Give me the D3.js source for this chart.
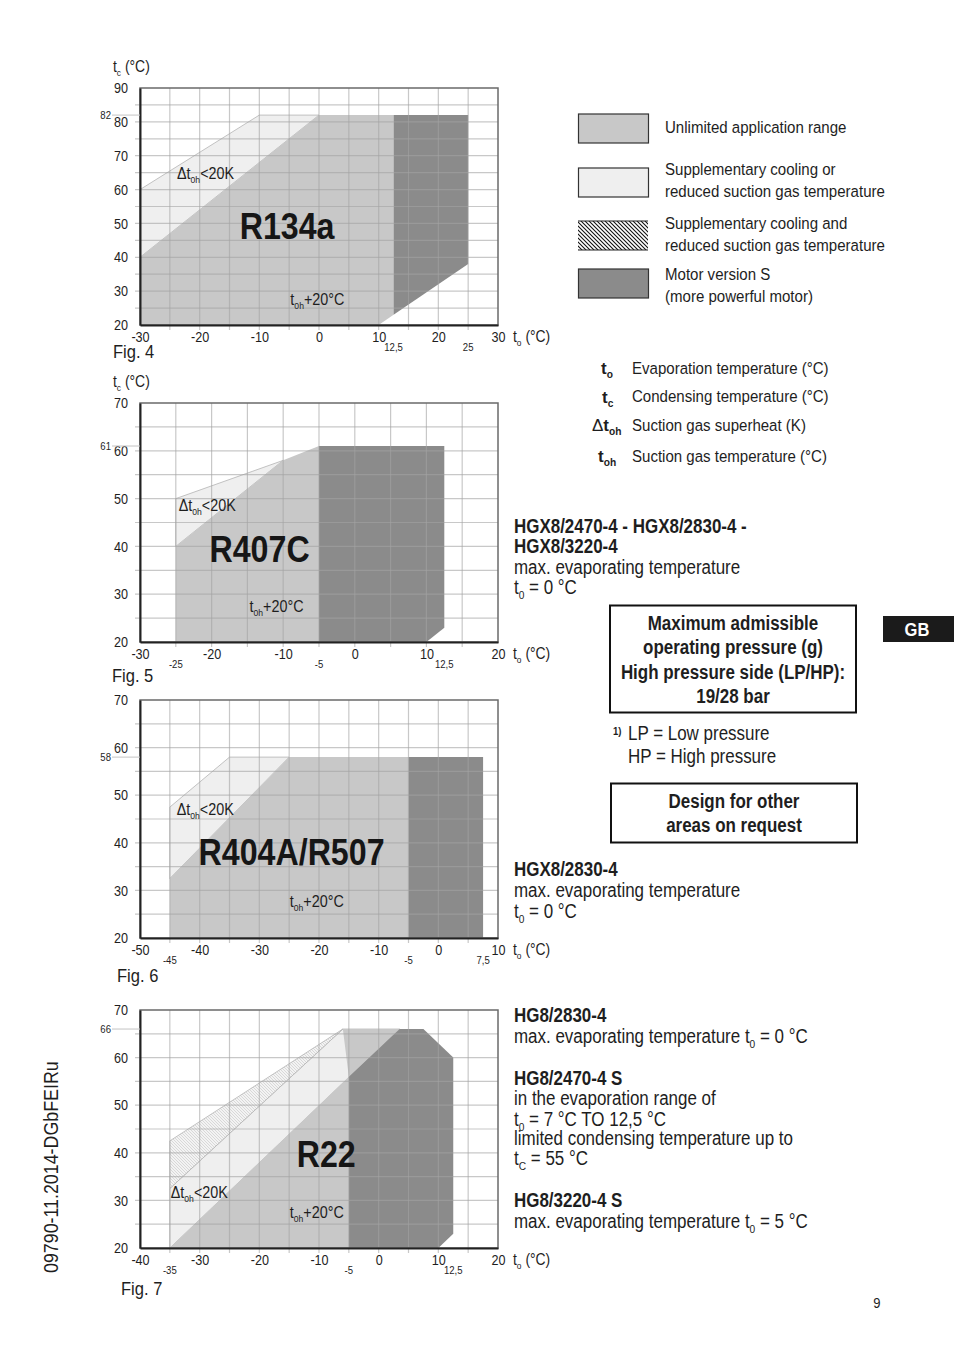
<!DOCTYPE html>
<html>
<head>
<meta charset="utf-8">
<script src="https://cdn.jsdelivr.net/npm/d3@7"></script>
<style>
body{margin:0;background:#fff;}
svg{display:block;font-family:"Liberation Sans",Arial,sans-serif;}
</style>
</head>
<body>
<div id="chart-area"></div>
<script>
// ---- data: Fig. 4 R134a
var r134aX=[-30,30], r134aY=[20,90];
var r134aXTicks=[-30,-20,-10,0,10,20,30];
var r134aYTicks=[20,30,40,50,60,70,80,90];
var r134aExtraX=[12.5,25];
var r134aExtraY=[82];
var r134aLight=[[-30,40],[-30,60],[-10,82],[0,82]];
var r134aMid=[[-30,20],[-30,40],[0,82],[12.5,82],[12.5,23],[10,20]];
var r134aDark=[[12.5,82],[25,82],[25,38],[12.5,23]];

// ---- Fig. 5 R407C
var r407cX=[-30,20], r407cY=[20,70];
var r407cXTicks=[-30,-20,-10,0,10,20];
var r407cYTicks=[20,30,40,50,60,70];
var r407cExtraX=[-25,-5,12.5];
var r407cExtraY=[61];
var r407cLight=[[-25,40],[-25,50],[-10,58]];
var r407cMid=[[-25,20],[-25,40],[-10,58],[-5,61],[-5,20]];
var r407cDark=[[-5,20],[-5,61],[12.5,61],[12.5,23],[10,20]];

// ---- Fig. 6 R404A/R507
var r404X=[-50,10], r404Y=[20,70];
var r404XTicks=[-50,-40,-30,-20,-10,0,10];
var r404YTicks=[20,30,40,50,60,70];
var r404ExtraX=[-45,-5,7.5];
var r404ExtraY=[58];
var r404Light=[[-45,32.5],[-45,47.5],[-35,58],[-25,58]];
var r404Mid=[[-45,20],[-45,32.5],[-25,58],[-5,58],[-5,20]];
var r404Dark=[[-5,20],[-5,58],[7.5,58],[7.5,20]];

// ---- Fig. 7 R22
var r22X=[-40,20], r22Y=[20,70];
var r22XTicks=[-40,-30,-20,-10,0,10,20];
var r22YTicks=[20,30,40,50,60,70];
var r22ExtraX=[-35,-5,12.5];
var r22ExtraY=[66];
var r22Light=[[-35,20],[-35,32.5],[-6,66],[3.5,66]];
var r22Hatch=[[-35,32.5],[-35,42.5],[-6,66]];
var r22Mid=[[-35,20],[-5,20],[-5,56],[-6,66],[3.5,66],[-5,56]];
var r22Dark=[[-5,20],[-5,56],[3.5,66],[7.5,66],[12.5,60],[12.5,23],[10,20]];

// ---- legend / notes
var legendLabels=[["Unlimited application range"],
  ["Supplementary cooling or","reduced suction gas temperature"],
  ["Supplementary cooling and","reduced suction gas temperature"],
  ["Motor version S","(more powerful motor)"]];
var symbolLabels=["Evaporation temperature (°C)","Condensing temperature (°C)",
  "Suction gas superheat (K)","Suction gas temperature (°C)"];

var colors={light:"#efefef",mid:"#c8c8c8",dark:"#8b8b8b",text:"#1e1e1e"};
var narrow=0.87; // condensed look

var W=954,H=1354;
var svg=d3.select("#chart-area").append("svg").attr("width",W).attr("height",H);

var defs=svg.append("defs");
var pat=defs.append("pattern").attr("id","hatchBlack").attr("patternUnits","userSpaceOnUse")
  .attr("width",4).attr("height",4);
pat.append("rect").attr("width",4).attr("height",4).attr("fill","#fff");
pat.append("path").attr("d","M0,0L4,4M-1,3L1,5M3,-1L5,1").attr("stroke","#111").attr("stroke-width",1.1);
var pat2=defs.append("pattern").attr("id","hatchLight").attr("patternUnits","userSpaceOnUse")
  .attr("width",3).attr("height",3);
pat2.append("rect").attr("width",3).attr("height",3).attr("fill","#f3f3f3");
pat2.append("path").attr("d","M0,0L3,3M-1,2L1,4M2,-1L4,1").attr("stroke","#cdcdcd").attr("stroke-width",0.7);

// text with sub/superscripts
function rich(g,x,y,parts,size,weight,anchor){
  var t=g.append("text").attr("x",x).attr("y",y).attr("font-size",size)
    .attr("font-weight",weight||"normal").attr("text-anchor",anchor||"start").attr("fill",colors.text);
  var shift=0;
  parts.forEach(function(p){
    if(typeof p==="string") p={t:p};
    var target=p.sub?size*0.24:(p.sup?-size*0.38:0);
    var ts=t.append("tspan").text(p.t).attr("dy",target-shift);
    if(p.sub||p.sup) ts.attr("font-size",size*0.6);
    if(p.b) ts.attr("font-weight","bold");
    shift=target;
  });
  return t;
}
function comma(v){return String(v).replace(".",",");}

var charts=[
  {fig:"Fig. 4",name:"R134a",xd:r134aX,yd:r134aY,xt:r134aXTicks,yt:r134aYTicks,ex:r134aExtraX,ey:r134aExtraY,
   light:r134aLight,mid:r134aMid,dark:r134aDark,
   top:88,bottom:325,tc:true,figX:113,figY:358,
   pDelta:[-23.8,63.2],pName:[-5.35,45.5],pToh:[-4.8,25.9]},
  {fig:"Fig. 5",name:"R407C",xd:r407cX,yd:r407cY,xt:r407cXTicks,yt:r407cYTicks,ex:r407cExtraX,ey:r407cExtraY,
   light:r407cLight,mid:r407cMid,dark:r407cDark,
   top:403,bottom:642,tc:true,figX:112,figY:682,
   pDelta:[-24.6,47.3],pName:[-13.3,36.8],pToh:[-14.7,26.3]},
  {fig:"Fig. 6",name:"R404A/R507",xd:r404X,yd:r404Y,xt:r404XTicks,yt:r404YTicks,ex:r404ExtraX,ey:r404ExtraY,
   light:r404Light,mid:r404Mid,dark:r404Dark,
   top:700,bottom:938,tc:false,figX:117,figY:982,
   pDelta:[-43.85,45.9],pName:[-24.6,35.4],pToh:[-24.9,26.6]},
  {fig:"Fig. 7",name:"R22",xd:r22X,yd:r22Y,xt:r22XTicks,yt:r22YTicks,ex:r22ExtraX,ey:r22ExtraY,
   light:r22Light,hatch:r22Hatch,mid:r22Mid,dark:r22Dark,
   top:1010,bottom:1248,tc:false,figX:121,figY:1295,
   pDelta:[-34.85,30.5],pName:[-8.8,37.1],pToh:[-14.9,26.3]}
];

var left=140,right=498;

charts.forEach(function(c){
  var x=d3.scaleLinear().domain(c.xd).range([left,right]);
  var y=d3.scaleLinear().domain(c.yd).range([c.bottom,c.top]);
  var g=svg.append("g");
  var line=d3.line().x(function(d){return x(d[0]);}).y(function(d){return y(d[1]);});
  function poly(pts,fill,stroke){
    g.append("path").attr("d",line(pts)+"Z").attr("fill",fill)
      .attr("stroke",stroke||"none").attr("stroke-width",0.8);
  }
  poly(c.light,colors.light,"#b4b4b4");
  if(c.hatch) poly(c.hatch,"url(#hatchLight)","#b4b4b4");
  poly(c.mid,colors.mid);
  poly(c.dark,colors.dark);

  // grid every 5
  var gx=d3.range(c.xd[0]+5,c.xd[1],5), gy=d3.range(c.yd[0]+5,c.yd[1],5);
  g.append("g").selectAll("line").data(gx).enter().append("line")
    .attr("x1",x).attr("x2",x).attr("y1",c.top).attr("y2",c.bottom+5)
    .attr("stroke","#a4a4a4").attr("stroke-opacity",0.6).attr("stroke-width",1.2);
  g.append("g").selectAll("line").data(gy).enter().append("line")
    .attr("y1",y).attr("y2",y).attr("x1",left-5).attr("x2",right)
    .attr("stroke","#a4a4a4").attr("stroke-opacity",0.6).attr("stroke-width",1.2);

  g.append("rect").attr("x",left).attr("y",c.top).attr("width",right-left).attr("height",c.bottom-c.top)
    .attr("fill","none").attr("stroke","#6a6a6a").attr("stroke-width",1.5);

  var xAxis=d3.axisBottom(x).tickValues(c.xt).tickSize(0).tickPadding(7).tickFormat(function(d){return String(d);});
  var gxa=g.append("g").attr("transform","translate(0,"+c.bottom+")").call(xAxis).attr("font-family",null);
  gxa.select(".domain").attr("stroke","#222").attr("stroke-width",2);
  gxa.selectAll("text").attr("font-size",14.5).attr("fill",colors.text);

  var yAxis=d3.axisLeft(y).tickValues(c.yt).tickSize(0).tickPadding(12);
  var gya=g.append("g").attr("transform","translate("+left+",0)").call(yAxis).attr("font-family",null);
  gya.select(".domain").attr("stroke","#222").attr("stroke-width",2);
  gya.selectAll("text").attr("font-size",14.5).attr("fill",colors.text);

  // small extra tick labels
  g.selectAll(".ex").data(c.ex).enter().append("text")
    .attr("x",x).attr("y",c.bottom+26).attr("text-anchor","middle")
    .attr("font-size",11).attr("fill",colors.text).text(comma);
  c.ey.forEach(function(v){
    g.append("line").attr("x1",left-28).attr("x2",left).attr("y1",y(v)).attr("y2",y(v))
      .attr("stroke","#c4c4c4").attr("stroke-width",1);
    g.append("text").attr("x",left-29).attr("y",y(v)).attr("dy","0.35em").attr("text-anchor","end")
      .attr("font-size",11).attr("fill",colors.text).text(comma(v));
  });

  // axis titles
  if(c.tc) rich(g,113,c.top-16,["t",{t:"c",sub:true}," (°C)"],16);
  rich(g,right+15,c.bottom+17,["t",{t:"o",sub:true}," (°C)"],16);
  g.append("text").attr("x",c.figX).attr("y",c.figY).attr("font-size",19)
    .attr("fill",colors.text).text(c.fig);

  // in-plot labels
  rich(g,x(c.pDelta[0]),y(c.pDelta[1]),["Δt",{t:"0h",sub:true},"<20K"],16.5);
  rich(g,x(c.pToh[0]),y(c.pToh[1]),["t",{t:"0h",sub:true},"+20°C"],16.5);
  g.append("text").attr("x",x(c.pName[0])).attr("y",y(c.pName[1])).attr("text-anchor","middle")
    .attr("font-size",37).attr("font-weight","bold").attr("fill","#161616").text(c.name);
});

// ---- legend
var lg=svg.append("g");
var swY=[114,168,221,269];
var swFill=[colors.mid,colors.light,"url(#hatchBlack)",colors.dark];
var txtY=[[133.5],[175.5,197],[229.5,251],[280,302]];
legendLabels.forEach(function(lines,i){
  if(i===2){
    lg.append("rect").attr("x",578).attr("y",swY[i]).attr("width",70).attr("height",29).attr("fill",swFill[i]);
    lg.append("line").attr("x1",578).attr("x2",648).attr("y1",swY[i]).attr("y2",swY[i]).attr("stroke","#222").attr("stroke-width",1.2);
    lg.append("line").attr("x1",578).attr("x2",648).attr("y1",swY[i]+29).attr("y2",swY[i]+29).attr("stroke","#222").attr("stroke-width",1.2);
  } else {
    lg.append("rect").attr("x",578.5).attr("y",swY[i]).attr("width",70).attr("height",29)
      .attr("fill",swFill[i]).attr("stroke","#333").attr("stroke-width",1.2);
  }
  lines.forEach(function(s,j){
    lg.append("text").attr("x",665).attr("y",txtY[i][j]).attr("font-size",17.3).attr("fill",colors.text).text(s);
  });
});

var symY=[374,402.5,431,462];
var symParts=[
  [{t:"t",b:true},{t:"o",sub:true,b:true}],
  [{t:"t",b:true},{t:"c",sub:true,b:true}],
  ["Δ",{t:"t",b:true},{t:"oh",sub:true,b:true}],
  [{t:"t",b:true},{t:"oh",sub:true,b:true}]
];
var symX=[601,602,592,598];
symbolLabels.forEach(function(s,i){
  rich(lg,symX[i],symY[i],symParts[i],17).classed("nocomp",true);
  lg.append("text").attr("x",632).attr("y",symY[i]).attr("font-size",17.3).attr("fill",colors.text).text(s);
});

// ---- right side notes
var nt=svg.append("g");
function noteLine(x,yy,parts,bold,anchor){
  return rich(nt,x,yy,parts,19.5,bold?"bold":"normal",anchor);
}
noteLine(514,533,["HGX8/2470-4 - HGX8/2830-4 -"],true);
noteLine(514,553,["HGX8/3220-4"],true);
noteLine(514,574,["max. evaporating temperature"]);
noteLine(514,594,["t",{t:"0",sub:true}," = 0 °C"]);

nt.append("rect").attr("x",610).attr("y",605.5).attr("width",246).attr("height",107)
  .attr("fill","none").attr("stroke","#111").attr("stroke-width",2);
["Maximum admissible","operating pressure (g)","High pressure side (LP/HP):","19/28 bar"].forEach(function(s,i){
  noteLine(733,[630,654,679,703][i],[s],true,"middle");
});
rich(nt,613,735,["1)"],11,"bold");
noteLine(628,740,["LP = Low pressure"]);
noteLine(628,763,["HP = High pressure"]);

nt.append("rect").attr("x",611).attr("y",783.5).attr("width",246).attr("height",59)
  .attr("fill","none").attr("stroke","#111").attr("stroke-width",2);
noteLine(734,808,["Design for other"],true,"middle");
noteLine(734,832,["areas on request"],true,"middle");

nt.append("rect").attr("x",883).attr("y",616).attr("width",71).attr("height",26).attr("fill","#1b1b1b");
nt.append("text").attr("x",917).attr("y",636).attr("text-anchor","middle").attr("font-size",19)
  .attr("font-weight","bold").attr("fill","#fff").text("GB");

noteLine(514,876,["HGX8/2830-4"],true);
noteLine(514,897,["max. evaporating temperature"]);
noteLine(514,918,["t",{t:"0",sub:true}," = 0 °C"]);

noteLine(514,1022,["HG8/2830-4"],true);
noteLine(514,1043,["max. evaporating temperature t",{t:"0",sub:true}," = 0 °C"]);
noteLine(514,1085,["HG8/2470-4 S"],true);
noteLine(514,1105,["in the evaporation range of"]);
noteLine(514,1126,["t",{t:"0",sub:true}," = 7 °C TO 12,5 °C"]);
noteLine(514,1145,["limited condensing temperature up to"]);
noteLine(514,1165,["t",{t:"C",sub:true}," = 55 °C"]);
noteLine(514,1207,["HG8/3220-4 S"],true);
noteLine(514,1228,["max. evaporating temperature t",{t:"0",sub:true}," = 5 °C"]);

svg.append("text").attr("transform","translate(58,1273) rotate(-90)").attr("font-size",20.5)
  .attr("fill",colors.text).text("09790-11.2014-DGbFEIRu");
svg.append("text").attr("x",877).attr("y",1308).attr("text-anchor","middle").attr("font-size",15)
  .attr("fill",colors.text).text("9");

// squeeze every text horizontally around its anchor for the condensed type look
svg.selectAll("text").each(function(){
  var s=d3.select(this);
  if(s.classed("nocomp")) return;
  var tr=s.attr("transform");
  if(tr){ s.attr("transform",tr+" scale("+narrow+",1)"); return; }
  var ax=+s.attr("x")||0;
  s.attr("transform","translate("+ax+",0) scale("+narrow+",1) translate("+(-ax)+",0)");
});
</script>
</body>
</html>
